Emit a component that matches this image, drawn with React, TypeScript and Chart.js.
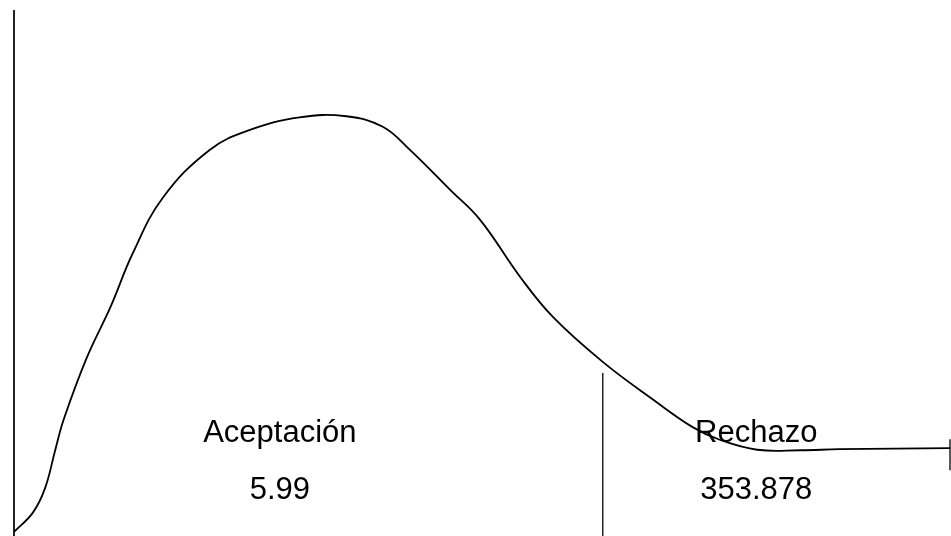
import React, { useEffect, useRef } from "react";
import { Chart, registerables } from "chart.js";

Chart.register(...registerables);

// Curve (x in abstract units 0..100, y density units 0..100)
const curveX = [0, 2.0, 3.3, 4.4, 5.3, 7.8, 10.3, 12.7, 15.9, 20.9, 25.2, 30.5, 35.5, 39.4, 42.3, 46.6, 49.8, 54.1, 57.6, 62.9, 68.3, 72.5, 75.4, 79.4, 84.0, 88.2, 100];
const curveY = [0.8, 4.4, 9.0, 16.3, 22.1, 34.0, 43.5, 53.8, 64.3, 73.4, 77.2, 79.6, 79.8, 77.8, 73.4, 65.8, 60.1, 49.2, 41.6, 33.1, 25.9, 20.7, 18.3, 16.4, 16.3, 16.5, 16.7];

// Reference lines
const axisX = [0, 0];
const axisY = [0, 100];
const criticalX = [62.9, 62.9];
const criticalY = [0, 31.0];
const endTickX = [100, 100];
const endTickY = [12.5, 18.4];

// Region labels
const regionNames = ["Aceptación", "Rechazo"];
const regionValues = ["5.99", "353.878"];
const regionLabelX = [28.4, 79.3];
const nameBaselineY = 17.9;
const valueBaselineY = 7.0;

const toPts = (xs: number[], ys: number[]) => xs.map((x, i) => ({ x, y: ys[i] }));

const labelPlugin = {
  id: "regionLabels",
  afterDatasetsDraw(chart: any) {
    const { ctx, scales } = chart;
    const xs = scales.x;
    const ys = scales.y;
    ctx.save();
    ctx.fillStyle = "#000";
    ctx.font = "31px 'Liberation Sans', Arial, sans-serif";
    ctx.textAlign = "center";
    ctx.textBaseline = "alphabetic";
    regionNames.forEach((name, i) => {
      const px = xs.getPixelForValue(regionLabelX[i]);
      ctx.fillText(name, px, ys.getPixelForValue(nameBaselineY));
      ctx.fillText(regionValues[i], px, ys.getPixelForValue(valueBaselineY));
    });
    ctx.restore();
  },
};

export default function App() {
  const ref = useRef<HTMLCanvasElement>(null);
  useEffect(() => {
    if (!ref.current) return;
    const lineDs = (data: any, width: number, color: string, tension = 0) => ({
      data,
      borderColor: color,
      borderWidth: width,
      pointRadius: 0,
      fill: false,
      clip: false as any,
      tension,
    });
    const chart = new Chart(ref.current, {
      type: "line",
      data: {
        datasets: [
          lineDs(toPts(curveX, curveY), 1.8, "#000", 0.4),
          lineDs(toPts(axisX, axisY), 2, "#222"),
          lineDs(toPts(criticalX, criticalY), 1.5, "#222"),
          lineDs(toPts(endTickX, endTickY), 1.5, "#222"),
        ],
      },
      options: {
        animation: false,
        responsive: false,
        layout: { padding: { left: 14, right: 1, top: 10, bottom: 0 } },
        plugins: { legend: { display: false }, tooltip: { enabled: false } },
        scales: {
          x: { type: "linear", min: 0, max: 100, display: false },
          y: { type: "linear", min: 0, max: 100, display: false },
        },
      },
      plugins: [labelPlugin],
    });
    return () => chart.destroy();
  }, []);
  return (
    <div style={{ position: "absolute", left: 0, top: 0, width: 951, height: 536, background: "#fff" }}>
      <canvas ref={ref} width={951} height={536} style={{ display: "block" }} />
    </div>
  );
}
